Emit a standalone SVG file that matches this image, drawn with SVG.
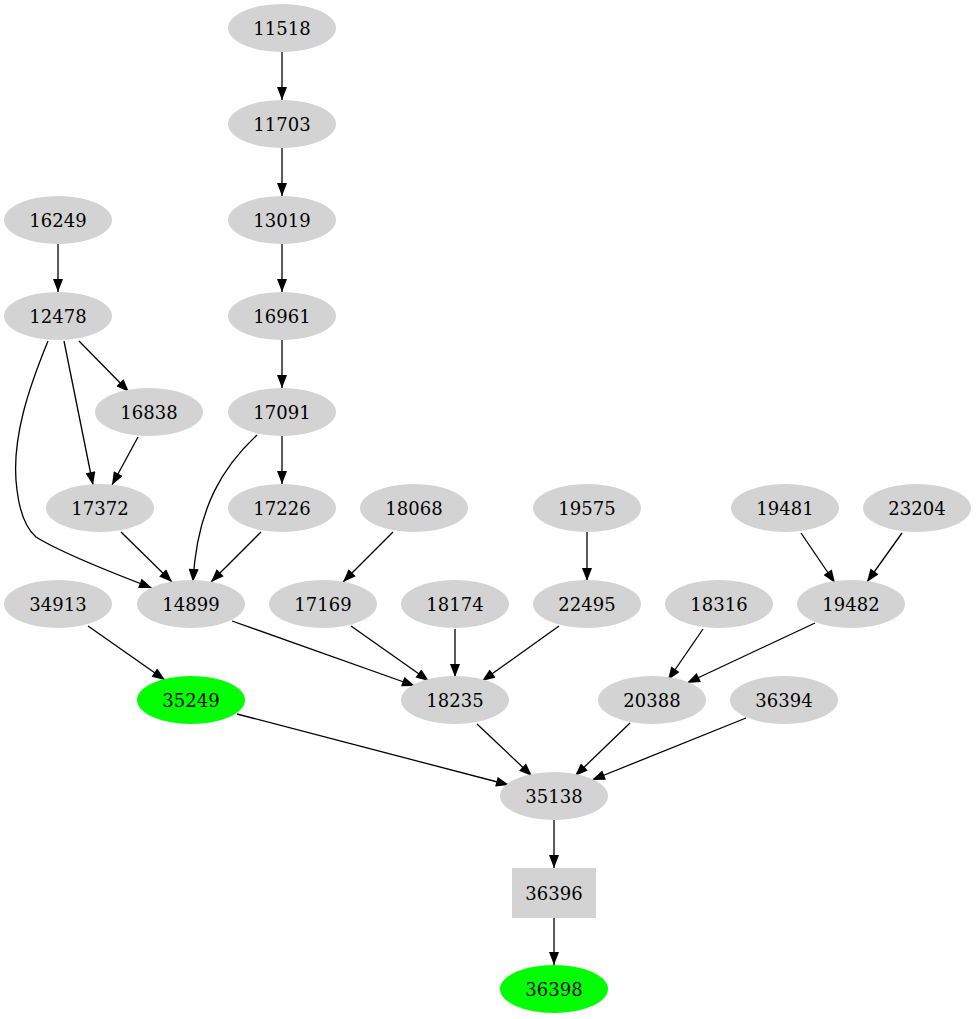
<svg xmlns="http://www.w3.org/2000/svg" width="977" height="1019" viewBox="0 0 977 1019">
<style>
.n ellipse, .n rect { fill: #d3d3d3; stroke: none; }
.g ellipse { fill: #00ff00; stroke: none; }
text { font-family: "DejaVu Serif", "Liberation Serif", serif; font-size: 18px; fill: #000; text-anchor: middle; }
#edges path { fill: none; stroke: #000; stroke-width: 1.3; marker-end: url(#arr); }
</style>
<defs>
<marker id="arr" markerUnits="userSpaceOnUse" markerWidth="14" markerHeight="10" viewBox="0 0 13 10" refX="13" refY="5" orient="auto">
<path d="M0,0 L13,5 L0,10 z" fill="#000"/>
</marker>
</defs>
<rect width="977" height="1019" fill="#fff"/>
<g id="edges">
<path d="M282,52 L282,100"/>
<path d="M282,148 L282,196"/>
<path d="M282,244 L282,292"/>
<path d="M282,340 L282,388"/>
<path d="M282,436 L282,484"/>
<path d="M58,244 L58,292"/>
<path d="M79,341 L129,392"/>
<path d="M64,341 L93,485"/>
<path d="M138,437 L112,485"/>
<path d="M48,341 C30,385 10,440 17,490 C20,515 28,530 36,537 C60,552 110,572 152,588"/>
<path d="M121,532 L172,582"/>
<path d="M261,532 L211,582"/>
<path d="M257,435 C225,465 197,505 193,582"/>
<path d="M393,532 L343,582"/>
<path d="M587,532 L587,581"/>
<path d="M232,621 L415,686"/>
<path d="M351,626 L429,681"/>
<path d="M455,629 L455,677"/>
<path d="M559,626 L482,681"/>
<path d="M801,533 L835,583"/>
<path d="M902,533 L867,582"/>
<path d="M703,629 L668,680"/>
<path d="M815,623 L687,683"/>
<path d="M88,626 L165,680"/>
<path d="M237,714 L509,785"/>
<path d="M477,724 L532,776"/>
<path d="M630,723 L575,776"/>
<path d="M746,718 L592,780"/>
<path d="M554,820 L554,868"/>
<path d="M554,918 L554,965"/>
</g>
<g id="n11518" class="n"><ellipse cx="282" cy="28" rx="54" ry="24"/><text x="282" y="35">11518</text></g>
<g id="n11703" class="n"><ellipse cx="282" cy="124" rx="54" ry="24"/><text x="282" y="131">11703</text></g>
<g id="n13019" class="n"><ellipse cx="282" cy="220" rx="54" ry="24"/><text x="282" y="227">13019</text></g>
<g id="n16961" class="n"><ellipse cx="282" cy="316" rx="54" ry="24"/><text x="282" y="323">16961</text></g>
<g id="n17091" class="n"><ellipse cx="282" cy="412" rx="54" ry="24"/><text x="282" y="419">17091</text></g>
<g id="n17226" class="n"><ellipse cx="282" cy="508" rx="54" ry="24"/><text x="282" y="515">17226</text></g>
<g id="n16249" class="n"><ellipse cx="58" cy="220" rx="54" ry="24"/><text x="58" y="227">16249</text></g>
<g id="n12478" class="n"><ellipse cx="58" cy="316" rx="54" ry="24"/><text x="58" y="323">12478</text></g>
<g id="n16838" class="n"><ellipse cx="149" cy="412" rx="54" ry="24"/><text x="149" y="419">16838</text></g>
<g id="n17372" class="n"><ellipse cx="100" cy="508" rx="54" ry="24"/><text x="100" y="515">17372</text></g>
<g id="n14899" class="n"><ellipse cx="191" cy="604" rx="54" ry="24"/><text x="191" y="611">14899</text></g>
<g id="n34913" class="n"><ellipse cx="58" cy="604" rx="54" ry="24"/><text x="58" y="611">34913</text></g>
<g id="n35249" class="g"><ellipse cx="191" cy="700" rx="54" ry="24"/><text x="191" y="707">35249</text></g>
<g id="n18068" class="n"><ellipse cx="414" cy="508" rx="54" ry="24"/><text x="414" y="515">18068</text></g>
<g id="n17169" class="n"><ellipse cx="323" cy="604" rx="54" ry="24"/><text x="323" y="611">17169</text></g>
<g id="n18174" class="n"><ellipse cx="455" cy="604" rx="54" ry="24"/><text x="455" y="611">18174</text></g>
<g id="n19575" class="n"><ellipse cx="587" cy="508" rx="54" ry="24"/><text x="587" y="515">19575</text></g>
<g id="n22495" class="n"><ellipse cx="587" cy="604" rx="54" ry="24"/><text x="587" y="611">22495</text></g>
<g id="n18235" class="n"><ellipse cx="455" cy="700" rx="54" ry="24"/><text x="455" y="707">18235</text></g>
<g id="n19481" class="n"><ellipse cx="785" cy="508" rx="54" ry="24"/><text x="785" y="515">19481</text></g>
<g id="n23204" class="n"><ellipse cx="917" cy="508" rx="54" ry="24"/><text x="917" y="515">23204</text></g>
<g id="n18316" class="n"><ellipse cx="719" cy="604" rx="54" ry="24"/><text x="719" y="611">18316</text></g>
<g id="n19482" class="n"><ellipse cx="851" cy="604" rx="54" ry="24"/><text x="851" y="611">19482</text></g>
<g id="n20388" class="n"><ellipse cx="652" cy="700" rx="54" ry="24"/><text x="652" y="707">20388</text></g>
<g id="n36394" class="n"><ellipse cx="784" cy="700" rx="54" ry="24"/><text x="784" y="707">36394</text></g>
<g id="n35138" class="n"><ellipse cx="554" cy="796" rx="54" ry="24"/><text x="554" y="803">35138</text></g>
<g id="n36396" class="n"><rect x="512" y="868" width="84" height="50"/><text x="554" y="900">36396</text></g>
<g id="n36398" class="g"><ellipse cx="554" cy="989" rx="54" ry="24"/><text x="554" y="996">36398</text></g>
</svg>
